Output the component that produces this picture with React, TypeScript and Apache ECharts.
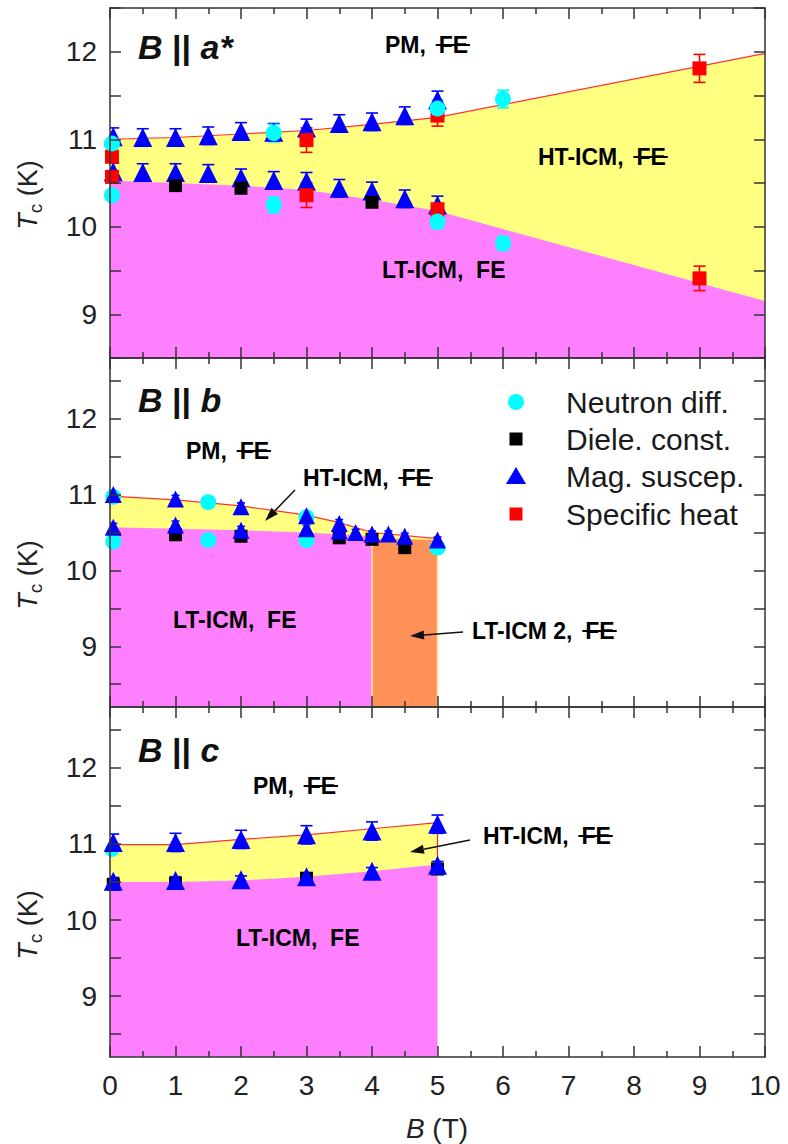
import React, { useEffect, useRef } from "react";
import * as echarts from "echarts";

const FAM = "'Liberation Sans', Arial, Helvetica, sans-serif";

// ---------- Panel 1: B || a* ----------
const neutronA = [[0.03, 10.95], [0.03, 10.36], [2.5, 11.07], [2.5, 10.25], [5, 11.35], [5, 10.06], [6, 11.46], [6, 9.81]];
const neutronAErr = [0.05, 0.05, 0.1, 0.09, 0.1, 0.08, 0.1, 0.08];
const dieleA = [[1, 10.47], [2, 10.44], [4, 10.28], [5, 10.18]];
const magA = [
  [0.05, 11.03], [0.5, 11.02], [1, 11.02], [1.5, 11.04], [2, 11.09], [2.5, 11.08], [3, 11.13], [3.5, 11.18], [4, 11.2], [4.5, 11.27], [5, 11.45],
  [0.05, 10.63], [0.5, 10.62], [1, 10.62], [1.5, 10.61], [2, 10.56], [2.5, 10.53], [3, 10.52], [3.5, 10.44], [4, 10.41], [4.5, 10.32], [5, 10.25],
];
const magAErr = [0.1, 0.1, 0.1, 0.1, 0.1, 0.1, 0.1, 0.1, 0.1, 0.1, 0.1, 0.1, 0.1, 0.1, 0.1, 0.1, 0.1, 0.1, 0.1, 0.1, 0.1, 0.1];
const heatA = [[0.03, 10.8], [0.03, 10.57], [3, 10.99], [3, 10.36], [5, 11.27], [5, 10.2], [9, 11.81], [9, 9.41]];
const heatAErr = [0.04, 0.04, 0.14, 0.14, 0.12, 0.06, 0.16, 0.14];
const upperA = [[0, 11.0], [1, 11.02], [2, 11.06], [3, 11.1], [4, 11.17], [5, 11.25], [10, 11.98]];
const lowerA = [[0, 10.53], [1, 10.5], [2, 10.47], [3, 10.42], [4, 10.31], [5, 10.18], [10, 9.15]];

// ---------- Panel 2: B || b ----------
const neutronB = [[0.05, 10.97], [0.05, 10.38], [1.5, 10.9], [1.5, 10.4], [3, 10.7], [3, 10.4], [5, 10.3]];
const neutronBErr = [0.04, 0.04, 0.04, 0.04, 0.04, 0.04, 0.04];
const dieleB = [[1, 10.47], [2, 10.45], [3.5, 10.43], [4, 10.41], [4.5, 10.3]];
const magB = [
  [0.05, 11.0], [1, 10.94], [2, 10.84], [3, 10.72], [3.5, 10.62], [3.75, 10.5], [4, 10.48], [4.25, 10.48], [4.5, 10.45], [5, 10.4],
  [0.05, 10.57], [1, 10.6], [2, 10.53], [3, 10.55], [3.5, 10.52],
];
const magBErr = [0.05, 0.05, 0.05, 0.05, 0.05, 0.04, 0.04, 0.04, 0.04, 0.04, 0.05, 0.05, 0.05, 0.05, 0.05];
const upperB = [[0, 10.98], [1, 10.93], [2, 10.85], [3, 10.73], [3.5, 10.63], [4, 10.5], [5, 10.42]];
const lowerB = [[0, 10.57], [1, 10.55], [2, 10.53], [3, 10.5], [4, 10.45]];
const orangeB = [[4, 10.42], [5, 10.4]];
const orangeEdgeL = [[4, 8.2], [4, 10.42]];
const orangeEdgeR = [[5, 8.2], [5, 10.4]];

// ---------- Panel 3: B || c ----------
const neutronC = [[0.03, 10.92]];
const dieleC = [[0.05, 10.47], [1, 10.48], [3, 10.55], [5, 10.67]];
const magC = [
  [0.05, 11.02], [1, 11.02], [2, 11.06], [3, 11.12], [4, 11.17], [5, 11.26],
  [0.05, 10.51], [1, 10.52], [2, 10.53], [3, 10.57], [4, 10.64], [5, 10.72],
];
const magCErr = [0.11, 0.12, 0.12, 0.12, 0.12, 0.12, 0.05, 0.05, 0.05, 0.05, 0.05, 0.05];
const upperC = [[0, 10.99], [1, 10.99], [2, 11.06], [3, 11.12], [4, 11.2], [5, 11.28]];
const lowerC = [[0, 10.5], [1, 10.5], [2, 10.52], [3, 10.57], [4, 10.64], [5, 10.73]];
const edgeC = [[5, 10.73], [5, 11.28]];

// ---------- axes ----------
const yTickVals = [8.5, 9, 9.5, 10, 10.5, 11, 11.5, 12, 12.5];
const yLabelVals = [9, 10, 11, 12];
const yRanges = [[8.5, 12.5], [8.2, 12.8], [8.2, 12.8]];
const legendNames = ["Neutron diff.", "Diele. const.", "Mag. suscep.", "Specific heat"];

const C_CYAN = "#00ffff";
const C_BLACK = "#000000";
const C_BLUE = "#0000ff";
const C_RED = "#ff0000";
const C_PINK = "#ff80ff";
const C_YELLOW = "#ffff80";
const C_ORANGE = "#ff9158";
const AX = "#333333";

let measureCtx: CanvasRenderingContext2D | null = null;
function tw(text: string, size: number, bold: boolean) {
  if (!measureCtx) measureCtx = document.createElement("canvas").getContext("2d");
  if (!measureCtx) return text.length * size * 0.6;
  measureCtx.font = `${bold ? "bold " : ""}${size}px 'Liberation Sans'`;
  return measureCtx.measureText(text).width;
}

function phaseLabel(x: number, y: number, main: string, struck: string, size = 23) {
  const els: any[] = [];
  const w1 = tw(main, size, true);
  const w2 = struck ? tw(struck, size, true) : 0;
  els.push({ type: "text", x, y, z: 100, style: { text: main, font: `bold ${size}px ${FAM}`, fill: "#000", align: "left", verticalAlign: "middle" } });
  if (struck) {
    const fx = x + w1;
    els.push({ type: "text", x: fx, y, z: 100, style: { text: struck, font: `bold ${size}px ${FAM}`, fill: "#000", align: "left", verticalAlign: "middle" } });
    els.push({ type: "line", z: 101, shape: { x1: fx - 3, y1: y, x2: fx + w2 + 2, y2: y }, style: { stroke: "#000", lineWidth: 2 } });
  }
  return els;
}

function arrow(x1: number, y1: number, x2: number, y2: number) {
  const dx = x2 - x1, dy = y2 - y1;
  const L = Math.sqrt(dx * dx + dy * dy);
  const ux = dx / L, uy = dy / L;
  const hl = 14, hw = 4.5;
  const bx = x2 - ux * hl, by = y2 - uy * hl;
  return [
    { type: "line", z: 100, shape: { x1, y1, x2: bx, y2: by }, style: { stroke: "#111", lineWidth: 1.5 } },
    { type: "polygon", z: 100, shape: { points: [[x2, y2], [bx - uy * hw, by + ux * hw], [bx + uy * hw, by - ux * hw]] }, style: { fill: "#111" } },
  ];
}

function title(x: number, y: number, letter: string) {
  return {
    type: "text", x, y, z: 100,
    style: {
      text: `{i|B} {n|||} {i|${letter}}`,
      align: "left", verticalAlign: "middle",
      rich: {
        i: { fontStyle: "italic", fontWeight: "bold", fontSize: 34, fontFamily: FAM, fill: "#111" },
        n: { fontWeight: "bold", fontSize: 34, fontFamily: FAM, fill: "#111" },
      },
      fontSize: 34, fontFamily: FAM, fontWeight: "bold",
    },
  };
}

function yTitle(cy: number) {
  return {
    type: "text", x: 28, y: cy, rotation: Math.PI / 2, z: 100,
    style: {
      text: "{t|T}{c|c} {n|(K)}",
      align: "center", verticalAlign: "middle",
      rich: {
        t: { fontStyle: "italic", fontSize: 27, fontFamily: FAM, fill: "#222" },
        c: { fontSize: 19, fontFamily: FAM, fill: "#222", padding: [14, 0, 0, 0] },
        n: { fontSize: 27, fontFamily: FAM, fill: "#222" },
      },
      fontSize: 27, fontFamily: FAM,
    },
  };
}

function errSeries(data: number[][], err: number[], color: string, k: number, cap = 12) {
  return {
    type: "custom", xAxisIndex: k, yAxisIndex: k, z: 4, silent: true, clip: true,
    data: data.map((d, i) => [d[0], d[1] - err[i], d[1] + err[i]]),
    encode: { x: 0, y: [1, 2] },
    renderItem: (params: any, api: any) => {
      const x = api.value(0);
      const p1 = api.coord([x, api.value(1)]);
      const p2 = api.coord([x, api.value(2)]);
      const hw = cap / 2;
      const st = { stroke: color, lineWidth: 1.6 };
      return {
        type: "group",
        children: [
          { type: "line", shape: { x1: p1[0], y1: p1[1], x2: p2[0], y2: p2[1] }, style: st },
          { type: "line", shape: { x1: p1[0] - hw, y1: p1[1], x2: p1[0] + hw, y2: p1[1] }, style: st },
          { type: "line", shape: { x1: p2[0] - hw, y1: p2[1], x2: p2[0] + hw, y2: p2[1] }, style: st },
        ],
      };
    },
  };
}

function scatter(name: string, data: number[][], k: number, symbol: string, size: number, color: string) {
  return {
    type: "scatter", name, xAxisIndex: k, yAxisIndex: k, data, symbol, symbolSize: size,
    itemStyle: { color, opacity: 1 }, z: 5, silent: true,
  };
}

function area(data: number[][], k: number, color: string, z: number, line?: string) {
  return {
    type: "line", xAxisIndex: k, yAxisIndex: k, data, symbol: "none", z, silent: true,
    lineStyle: line ? { color: line, width: 1.2 } : { width: 0, opacity: 0 },
    areaStyle: { color, opacity: 1, origin: "start" },
  };
}

function plainLine(data: number[][], k: number, color: string, z: number, width = 1.2) {
  return { type: "line", xAxisIndex: k, yAxisIndex: k, data, symbol: "none", z, silent: true, lineStyle: { color, width } };
}

function buildOption() {
  const grids = [
    { left: 110, right: 23, top: 8, height: 350 },
    { left: 110, right: 23, top: 358, height: 349 },
    { left: 110, right: 23, top: 707, height: 350 },
  ];
  const lineSt = { color: AX, width: 1.5 };
  const xAxes: any[] = [];
  const yAxes: any[] = [];
  for (let pos = 0; pos < 2; pos++) {
    for (let i = 0; i < 3; i++) {
      xAxes.push({
        type: "value", gridIndex: i, min: 0, max: 10, interval: 1,
        position: pos === 0 ? "bottom" : "top", z: 10,
        axisLine: { show: true, onZero: false, lineStyle: lineSt },
        axisTick: { show: true, inside: true, length: 11, lineStyle: lineSt },
        minorTick: { show: true, splitNumber: 2, length: 6, lineStyle: lineSt },
        axisLabel: { show: pos === 0 && i === 2, fontSize: 28, color: "#222", fontFamily: FAM, margin: 14 },
        splitLine: { show: false },
        minorSplitLine: { show: false },
      });
    }
  }
  for (let pos = 0; pos < 2; pos++) {
    for (let i = 0; i < 3; i++) {
      yAxes.push({
        type: "value", gridIndex: i, min: yRanges[i][0], max: yRanges[i][1],
        position: pos === 0 ? "left" : "right", z: 10,
        axisLine: { show: true, onZero: false, lineStyle: lineSt },
        axisTick: { show: true, inside: true, length: 11, lineStyle: lineSt, customValues: yTickVals },
        axisLabel: { show: pos === 0, fontSize: 28, color: "#222", fontFamily: FAM, margin: 13, customValues: yLabelVals },
        splitLine: { show: false },
      });
    }
  }

  const series: any[] = [
    // panel 1 regions
    area(upperA, 0, C_YELLOW, 1, "#ff3030"),
    area(lowerA, 0, C_PINK, 2),
    // panel 2 regions
    area(upperB, 1, C_YELLOW, 1, "#ff3030"),
    area(lowerB, 1, C_PINK, 2),
    area(orangeB, 1, C_ORANGE, 2),
    plainLine(orangeEdgeL, 1, "#ffe98a", 3, 1.5),
    plainLine(orangeEdgeR, 1, "#ffe98a", 3, 1.5),
    // panel 3 regions
    area(upperC, 2, C_YELLOW, 1, "#ff3030"),
    area(lowerC, 2, C_PINK, 2),
    plainLine(edgeC, 2, "#ff2020", 3),

    // error bars
    errSeries(magA, magAErr, C_BLUE, 0),
    errSeries(heatA, heatAErr, C_RED, 0),
    errSeries(neutronA, neutronAErr, C_CYAN, 0),
    errSeries(magB, magBErr, C_BLUE, 1, 8),
    errSeries(neutronB, neutronBErr, C_CYAN, 1, 8),
    errSeries(magC, magCErr, C_BLUE, 2),

    // points panel 1
    scatter(legendNames[2], magA, 0, "triangle", 19, C_BLUE),
    scatter(legendNames[1], dieleA, 0, "rect", 13, C_BLACK),
    scatter(legendNames[3], heatA, 0, "rect", 14, C_RED),
    scatter(legendNames[0], neutronA, 0, "circle", 16, C_CYAN),
    // panel 2
    scatter(legendNames[1], dieleB, 1, "rect", 13, C_BLACK),
    scatter(legendNames[0], neutronB, 1, "circle", 16, C_CYAN),
    scatter(legendNames[2], magB, 1, "triangle", 17, C_BLUE),
    // panel 3
    scatter(legendNames[0], neutronC, 2, "circle", 14, C_CYAN),
    scatter(legendNames[1], dieleC, 2, "rect", 13, C_BLACK),
    scatter(legendNames[2], magC, 2, "triangle", 19, C_BLUE),
  ];

  // legend drawn with graphic shapes
  const lx = 516, tx = 566;
  const ly = [402, 439, 476, 514];
  const legendEls: any[] = [
    { type: "circle", z: 100, shape: { cx: lx, cy: ly[0], r: 8 }, style: { fill: C_CYAN } },
    { type: "rect", z: 100, shape: { x: lx - 6.5, y: ly[1] - 6.5, width: 13, height: 13 }, style: { fill: C_BLACK } },
    { type: "polygon", z: 100, shape: { points: [[lx, ly[2] - 9], [lx - 10, ly[2] + 8], [lx + 10, ly[2] + 8]] }, style: { fill: C_BLUE } },
    { type: "rect", z: 100, shape: { x: lx - 6.5, y: ly[3] - 6.5, width: 13, height: 13 }, style: { fill: C_RED } },
  ];
  legendNames.forEach((n, i) => {
    legendEls.push({ type: "text", x: tx, y: ly[i], z: 100, style: { text: n, font: `30px ${FAM}`, fill: "#1a1a1a", align: "left", verticalAlign: "middle" } });
  });

  const elements: any[] = [
    title(138, 47, "a*"),
    title(138, 400, "b"),
    title(138, 750, "c"),
    ...phaseLabel(385, 45, "PM,  ", "FE"),
    ...phaseLabel(538, 157, "HT-ICM,  ", "FE"),
    ...phaseLabel(382, 270, "LT-ICM,  FE", ""),
    ...phaseLabel(186, 451, "PM,  ", "FE"),
    ...phaseLabel(303, 478, "HT-ICM,  ", "FE"),
    ...arrow(295, 490, 265, 521),
    ...phaseLabel(173, 620, "LT-ICM,  FE", ""),
    ...phaseLabel(472, 631, "LT-ICM 2,  ", "FE"),
    ...arrow(463, 632, 410, 636),
    ...phaseLabel(253, 786, "PM,  ", "FE"),
    ...phaseLabel(483, 836, "HT-ICM,  ", "FE"),
    ...arrow(470, 840, 410, 852),
    ...phaseLabel(236, 938, "LT-ICM,  FE", ""),
    ...legendEls,
    yTitle(195),
    yTitle(575),
    yTitle(925),
    {
      type: "text", x: 437, y: 1128, z: 100,
      style: {
        text: "{i|B} (T)", align: "center", verticalAlign: "middle",
        rich: { i: { fontStyle: "italic", fontSize: 28, fontFamily: FAM, fill: "#222" } },
        fontSize: 28, fontFamily: FAM, fill: "#222",
      },
    },
  ];

  return {
    animation: false,
    backgroundColor: "#ffffff",
    grid: grids,
    xAxis: xAxes,
    yAxis: yAxes,
    series,
    graphic: { elements },
  };
}

export default function App() {
  const ref = useRef<HTMLDivElement>(null);
  useEffect(() => {
    if (!ref.current) return;
    const chart = echarts.init(ref.current, undefined, { renderer: "svg" });
    chart.setOption(buildOption() as any);
    return () => chart.dispose();
  }, []);
  return (
    <div
      ref={ref}
      style={{ position: "absolute", left: 0, top: 0, width: 788, height: 1144, background: "#fff" }}
    />
  );
}
